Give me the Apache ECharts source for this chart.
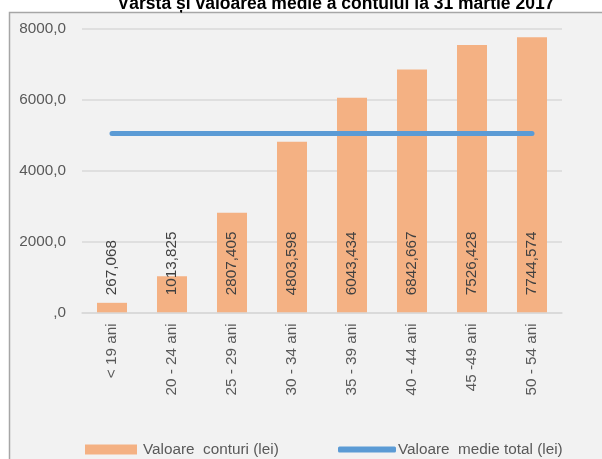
<!DOCTYPE html>
<html>
<head>
<meta charset="utf-8">
<script src="https://cdn.jsdelivr.net/npm/echarts@6/dist/echarts.min.js"></script>
<style>
  html, body { margin: 0; padding: 0; background: #fff; }
  #chart-container { width: 602px; height: 459px; }
</style>
</head>
<body>
<div id="chart-container"></div>
<script>
const titleText = 'Vârsta și valoarea medie a contului la 31 martie 2017';
const categories = ['< 19 ani', '20 - 24 ani', '25 - 29 ani', '30 - 34 ani',
  '35 - 39 ani', '40 - 44 ani', '45 -49 ani', '50 - 54 ani'];
const valoareConturi = [267.068, 1013.825, 2807.405, 4803.598, 6043.434, 6842.667, 7526.428, 7744.574];
const valoareMedie = [5040, 5040, 5040, 5040, 5040, 5040, 5040, 5040];
const barName = 'Valoare  conturi (lei)';
const lineName = 'Valoare  medie total (lei)';

const textColor = '#595959';
const font = '"Liberation Sans", Arial, sans-serif';
const fontSize = 15.3;

function fmtComma(v, digits) {
  if (v === 0) return ',0';
  return v.toFixed(digits).replace('.', ',');
}

let option = {
  backgroundColor: '#ffffff',
  animation: false,
  textStyle: { fontFamily: font },
  graphic: [
    {
      type: 'rect',
      z: -10,
      shape: { x: 9.5, y: 12.5, width: 700, height: 600 },
      style: { fill: '#f2f2f2', stroke: '#a6a6a6', lineWidth: 1.5 },
    },
    {
      type: 'text',
      z: 10,
      style: {
        text: titleText,
        x: 336,
        y: 13.5,
        align: 'center',
        verticalAlign: 'bottom',
        fill: '#000',
        font: 'bold 17.5px ' + font,
      },
    },
  ],
  grid: { left: 82, right: 40, top: 28.3, bottom: 146.7 },
  legend: [
    {
      left: 80,
      top: 437,
      itemWidth: 52,
      itemHeight: 10,
      icon: 'rect',
      data: [barName],
      textStyle: { color: textColor, fontSize: fontSize, fontFamily: font, padding: [0, 0, 0, 1] },
    },
    {
      left: 333,
      top: 437,
      itemWidth: 58,
      itemHeight: 6,
      icon: 'roundRect',
      data: [lineName],
      itemStyle: { color: '#5b9bd5' },
      lineStyle: { width: 0 },
      textStyle: { color: textColor, fontSize: fontSize, fontFamily: font, padding: [0, 0, 0, -3] },
    },
  ],
  xAxis: {
    type: 'category',
    data: categories,
    axisTick: { show: false },
    axisLine: { lineStyle: { color: '#d9d9d9', width: 1.5 } },
    axisLabel: {
      rotate: 90,
      margin: 11,
      color: textColor,
      fontSize: fontSize,
      fontFamily: font,
      interval: 0,
    },
  },
  yAxis: {
    type: 'value',
    min: 0,
    max: 8000,
    interval: 2000,
    axisLine: { show: false },
    axisTick: { show: false },
    splitLine: { lineStyle: { color: '#d9d9d9', width: 1.5 } },
    axisLabel: {
      margin: 16,
      color: textColor,
      fontSize: fontSize,
      fontFamily: font,
      formatter: (v) => fmtComma(v, 1),
    },
  },
  series: [
    {
      name: barName,
      type: 'bar',
      data: valoareConturi,
      barWidth: 30,
      itemStyle: { color: '#f4b183' },
      label: {
        show: true,
        position: 'insideBottom',
        distance: 17,
        rotate: 90,
        align: 'left',
        verticalAlign: 'middle',
        color: '#404040',
        fontSize: fontSize,
        fontFamily: font,
        formatter: (p) => fmtComma(p.value, 3),
      },
    },
    {
      name: lineName,
      type: 'line',
      data: valoareMedie,
      symbol: 'none',
      z: 5,
      itemStyle: { color: '#5b9bd5' },
      lineStyle: { color: '#5b9bd5', width: 5, cap: 'round' },
    },
  ],
};

var myChart = echarts.init(document.getElementById('chart-container'));
myChart.setOption(option);
</script>
</body>
</html>
